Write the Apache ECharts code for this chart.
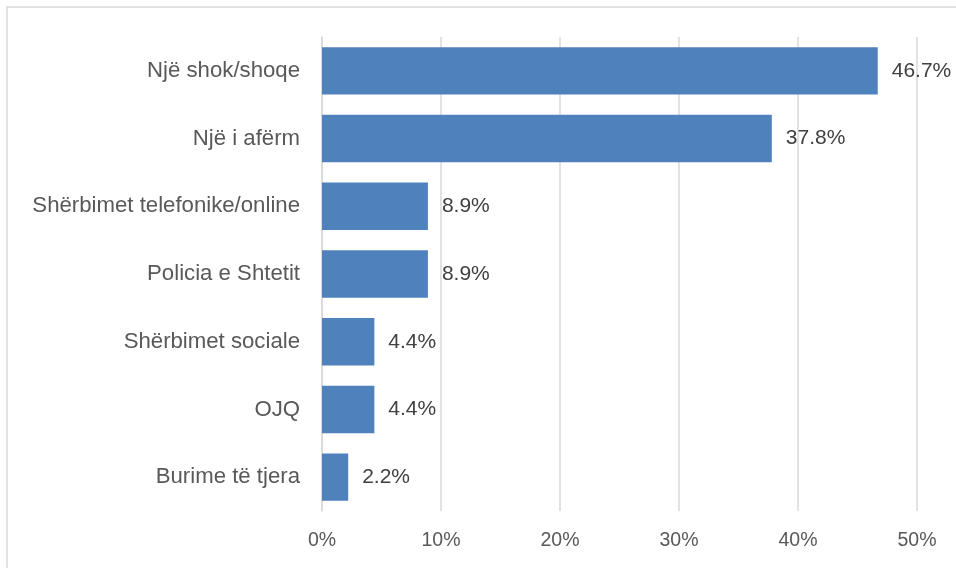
<!DOCTYPE html>
<html><head><meta charset="utf-8">
<script src="https://cdn.jsdelivr.net/npm/echarts@6/dist/echarts.min.js"></script>
<style>html,body{margin:0;padding:0;background:#fff}#c{width:956px;height:568px}</style>
</head><body><div id="c"></div>
<script>
const categories = ["Një shok/shoqe","Një i afërm","Shërbimet telefonike/online","Policia e Shtetit","Shërbimet sociale","OJQ","Burime të tjera"];
const values = [46.7, 37.8, 8.9, 8.9, 4.4, 4.4, 2.2];
const tickLabels = ["0%","10%","20%","30%","40%","50%"];

const chart = echarts.init(document.getElementById('c'), null, {renderer:'canvas'});
const font = '"Liberation Sans", Arial, sans-serif';
chart.setOption({
  animation:false,
  backgroundColor:'#fff',
  graphic:[{type:'rect', shape:{x:7, y:7, width:960, height:570}, style:{fill:'none', stroke:'#d9d9d9', lineWidth:1.5}, silent:true}],
  grid:{left:322, right:39, top:37, bottom:57, containLabel:false},
  xAxis:{type:'value', min:0, max:50, interval:10,
    axisLine:{show:false}, axisTick:{show:false},
    splitLine:{lineStyle:{color:'#d9d9d9', width:1.5}},
    axisLabel:{formatter:(v)=>tickLabels[Math.round(v/10)], color:'#595959', fontSize:19.5, fontFamily:font, margin:20}},
  yAxis:{type:'category', inverse:true, data:categories,
    axisLine:{show:true, lineStyle:{color:'#d9d9d9', width:1.5}}, axisTick:{show:false},
    axisLabel:{color:'#595959', fontSize:22.2, fontFamily:font, margin:22}},
  series:[{type:'bar', data:values, barCategoryGap:'30%',
    itemStyle:{color:'#4f81bd'},
    label:{show:true, position:'right', distance:14, formatter:(p)=>p.value.toFixed(1)+'%', color:'#404040', fontSize:21, fontFamily:font}}]
});
</script></body></html>
